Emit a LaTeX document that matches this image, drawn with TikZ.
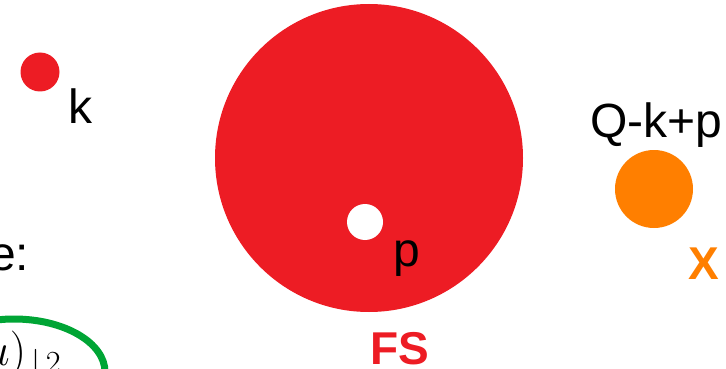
\RequirePackage{fix-cm}
\documentclass[tikz,border=0pt]{standalone}
\usepackage{fontspec}
\setmainfont{Liberation Sans}
\usepackage{xcolor}
\usepackage{tikz}
\usetikzlibrary{positioning, shapes.geometric}
\definecolor{fsred}{HTML}{ED1C24}
\definecolor{xorange}{HTML}{FF7F00}
\definecolor{pairgreen}{HTML}{00A535}
\tikzset{
  dot/.style={
    circle,
    inner sep=0pt,
    draw=none
  },
  label text/.style={
    inner sep=0pt,
    anchor=base west,
    font=\fontsize{48}{52}\selectfont
  },
  tag text/.style={
    inner sep=0pt,
    anchor=base west,
    font=\fontsize{46}{50}\selectfont\bfseries
  }
}

\begin{document}
\begin{tikzpicture}[x=1pt, y=-1pt]
  \useasboundingbox (0,0) rectangle (726,369);
  \clip (0,0) rectangle (726,369);

  % Incoming particle k
  \node[dot, fill=fsred, minimum size=39] (kdot) at (40,72) {};
  \node[label text] (klabel) at (68,124) {k};

  % Fermi sea with hole p
  \node[dot, fill=fsred, minimum size=308] (fs) at (369,158) {};
  \node[dot, fill=white, minimum size=36] (hole) at (365,222) {};
  \node[label text] (plabel) at (393,266) {p};
  \node[tag text, text=fsred] (fslabel) at (370,364) {FS};

  % Outgoing state X
  \node[label text] (qlabel) at (590,137) {Q-k+p};
  \node[dot, fill=xorange, minimum size=78] (xdot) at (654,189) {};
  \node[tag text, text=xorange] (xlabel) at (688,279) {X};

  % Cut-off text on the left
  \node[label text] (elabel) at (-11,270) {e:};
  \node[inner sep=0pt, anchor=base west, font=\fontsize{46}{50}\selectfont] (term) at (-16,365) {$u)_{\,|\,2}$};
  \node[ellipse, draw=pairgreen, line width=7, minimum width=182, minimum height=106] (pair) at (14,372) {};
\end{tikzpicture}
\end{document}
